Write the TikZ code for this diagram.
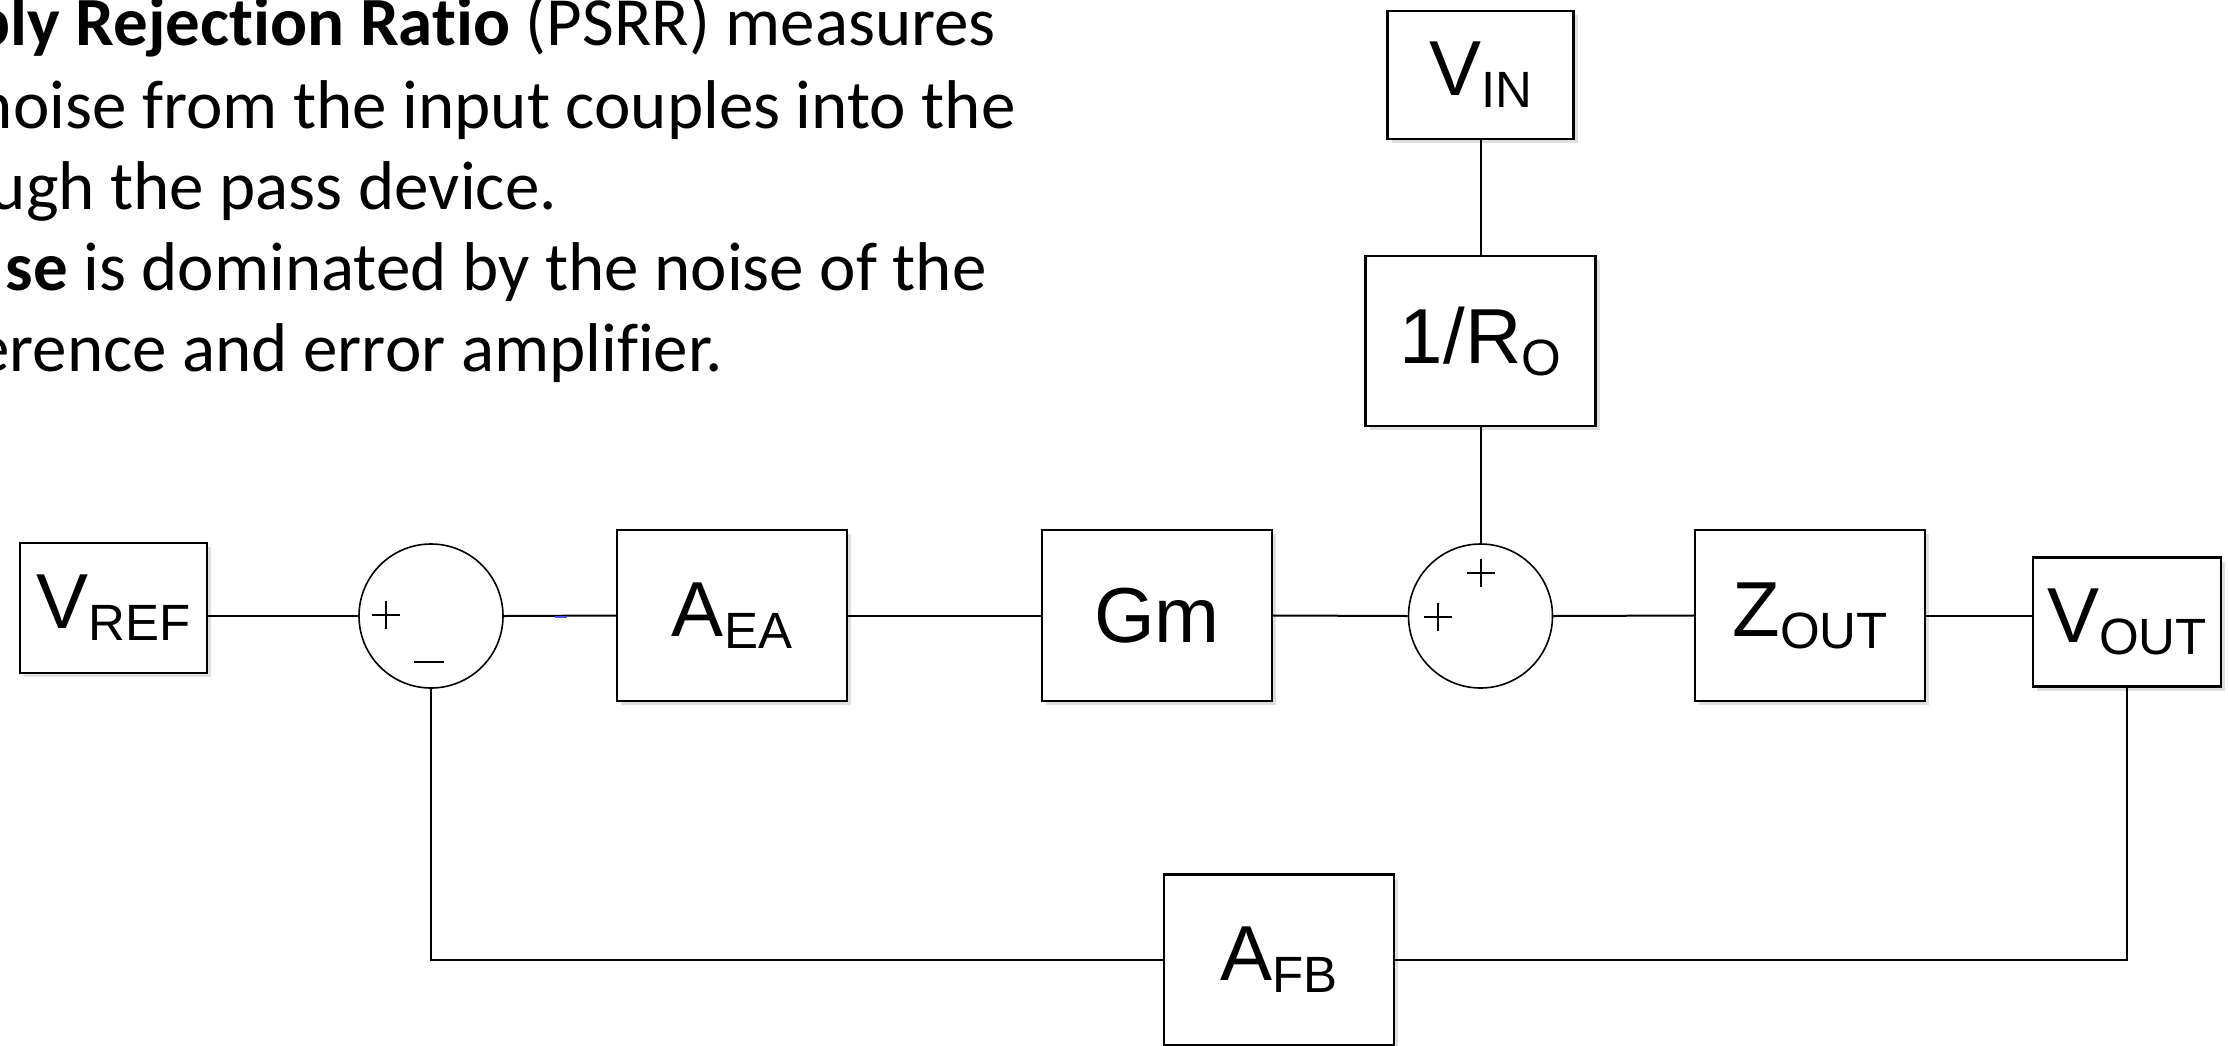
\documentclass[tikz,border=0pt]{standalone}
\usepackage{fontspec}
\setmainfont{Carlito}[Ligatures=NoCommon]
\newfontfamily\arialf{Liberation Sans}
\usetikzlibrary{shadows}
\newcommand\blab[2]{{\fontsize{78}{80}\selectfont #1}\raisebox{-12pt}{\fontsize{51}{52}\selectfont #2}}
\tikzset{
  blk/.style={draw, line width=2.4pt, fill=white, inner sep=0pt, font=\arialf,
    drop shadow={shadow xshift=4pt, shadow yshift=-4pt, fill=black!25, opacity=0.5}},
  sumnode/.style={draw, circle, line width=1.6pt, minimum size=144pt, inner sep=0pt},
  wire/.style={line width=2pt},
  sign/.style={line width=1.8pt},
  para/.style={anchor=base east, inner sep=0pt, font=\fontsize{69}{83}\selectfont}
}
\begin{document}
\begin{tikzpicture}[x=1pt, y=-1pt]
\useasboundingbox (0,0) rectangle (2228,1045);
% text
\node[para] (t1) at (996,45) {\textbf{ply Rejection Ratio} (PSRR) measures};
\node[para] (t2) at (1016,128) {noise from the input couples into the};
\node[para] (t3) at (557,209) {ugh the pass device.};
\node[para] (t4) at (987,290) {\textbf{se} is dominated by the noise of the};
\node[para] (t5) at (723,371) {erence and error amplifier.};
% blocks
\node[blk, minimum width=187pt, minimum height=130pt] (vref) at (113.5,608) {\blab{V}{REF}};
\node[sumnode] (s1) at (431,616) {};
\node[blk, minimum width=230pt, minimum height=171pt] (aea) at (732,615.5) {\blab{A}{EA}};
\node[blk, minimum width=230pt, minimum height=171pt] (gm) at (1157,615.5) {\fontsize{78}{80}\selectfont Gm};
\node[sumnode] (s2) at (1480.5,616) {};
\node[blk, minimum width=230pt, minimum height=171pt] (zout) at (1810,615.5) {\blab{Z}{OUT}};
\node[blk, minimum width=188pt, minimum height=129pt] (vout) at (2127,622) {\blab{V}{OUT}};
\node[blk, minimum width=186pt, minimum height=128pt] (vin) at (1480.5,75) {\blab{V}{IN}};
\node[blk, minimum width=230pt, minimum height=170pt] (ro) at (1480.5,341) {\blab{1/R}{O}};
\node[blk, minimum width=230pt, minimum height=171pt] (afb) at (1279,960) {\blab{A}{FB}};
% wires
\draw[wire] (s1.west) -- (s1.west -| vref.east);
\draw[wire] (s1.east) -- (aea.west);
\draw[wire] (aea.east) -- (gm.west);
\draw[wire] (gm.east) -- (s2.west);
\draw[wire] (s2.east) -- (zout.west);
\draw[wire] (zout.east) -- (zout.east -| vout.west);
\draw[wire] (vin.south) -- (ro.north);
\draw[wire] (ro.south) -- (s2.north);
\draw[wire] (vout.south) |- (afb.east);
\draw[wire] (afb.west) -| (s1.south);
\draw[line width=2.5pt, blue!70] (555,617) -- (567,617);
% signs
\draw[sign] (372,615) -- (400,615) (386,601) -- (386,629);
\draw[sign] (414,662) -- (444,662);
\draw[sign] (1424,617) -- (1452,617) (1438,603) -- (1438,631);
\draw[sign] (1467,573) -- (1495,573) (1481,559) -- (1481,587);
\end{tikzpicture}
\end{document}
